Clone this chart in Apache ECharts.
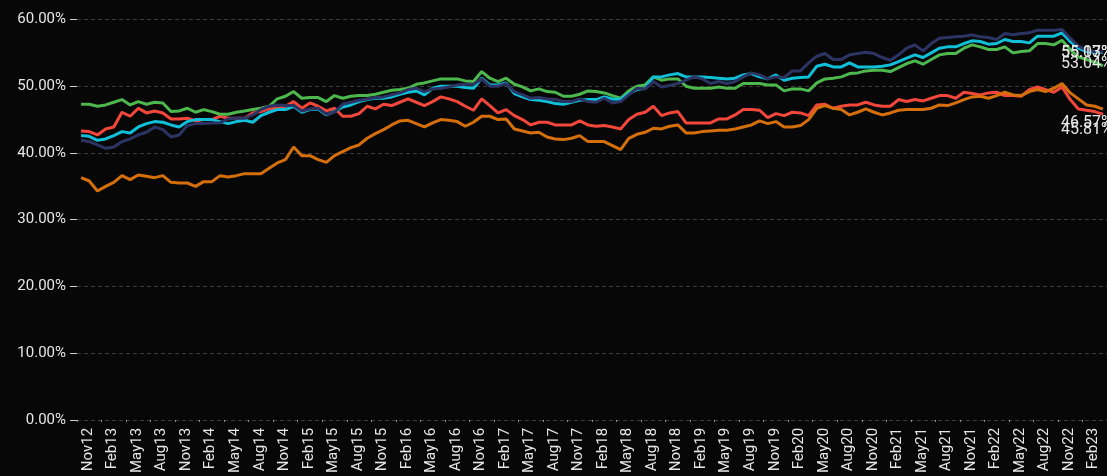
<!DOCTYPE html>
<html>
<head>
<meta charset="utf-8">
<script src="https://cdn.jsdelivr.net/npm/echarts@6/dist/echarts.min.js"></script>
<style>
  html, body { margin: 0; padding: 0; background: #070707; }
  #chart { width: 1107px; height: 476px; }
</style>
</head>
<body>
<div id="chart"></div>
<script>
// Monthly categories, Nov 2012 through Apr 2023
const monthNames = ['Jan','Feb','Mar','Apr','May','Jun','Jul','Aug','Sep','Oct','Nov','Dec'];
const categories = [];
for (let k = 0; k < 126; k++) {
  const m = (10 + k) % 12;
  const y = 12 + Math.floor((10 + k) / 12);
  categories.push(monthNames[m] + y);
}

const yTicks = [0, 10, 20, 30, 40, 50, 60];

const seriesNames = ['Red', 'Orange', 'Green', 'Cyan', 'Navy'];

const redValues = [
  43.3,43.2,42.7,43.6,43.9,46.1,45.5,46.7,46.0,46.3,46.0,45.1,45.1,45.2,44.8,45.0,45.0,45.5,45.2,45.2,
  45.2,46.0,46.2,46.6,46.7,47.0,47.7,46.7,47.5,47.0,46.3,46.7,45.5,45.5,45.9,47.0,46.6,47.3,47.1,47.6,
  48.1,47.6,47.1,47.7,48.4,48.1,47.7,47.0,46.4,48.1,47.1,46.0,46.5,45.6,45.0,44.2,44.6,44.6,44.2,44.2,
  44.2,44.8,44.2,44.0,44.1,43.9,43.6,45.0,45.8,46.1,47.0,45.6,46.0,46.2,44.5,44.5,44.5,44.5,45.1,45.1,
  45.7,46.5,46.5,46.4,45.3,45.9,45.6,46.1,46.0,45.6,47.2,47.3,46.7,47.0,47.2,47.2,47.6,47.2,47.0,47.0,
  48.0,47.7,48.0,47.8,48.2,48.6,48.6,48.2,49.1,48.9,48.7,49.0,49.1,48.6,48.6,48.5,49.5,49.9,49.5,49.1,
  49.9,48.0,46.6,46.4,46.2,45.81
];

const orangeValues = [
  36.3,35.8,34.3,35.0,35.6,36.6,36.0,36.7,36.5,36.3,36.6,35.6,35.5,35.5,35.0,35.7,35.7,36.6,36.4,36.6,
  36.9,36.9,36.9,37.7,38.5,39.0,40.9,39.6,39.6,39.0,38.6,39.6,40.2,40.8,41.2,42.2,42.9,43.5,44.2,44.8,
  44.9,44.4,43.9,44.5,45.0,44.9,44.7,44.0,44.6,45.5,45.5,45.0,45.1,43.6,43.3,43.0,43.1,42.4,42.1,42.0,
  42.2,42.6,41.7,41.7,41.7,41.1,40.5,42.2,42.8,43.1,43.7,43.6,44.0,44.2,43.0,43.0,43.2,43.3,43.4,43.4,
  43.6,43.9,44.2,44.8,44.4,44.7,43.9,43.9,44.1,45.0,46.7,47.1,46.7,46.5,45.7,46.1,46.6,46.1,45.7,46.0,
  46.4,46.5,46.5,46.5,46.7,47.2,47.1,47.5,48.0,48.4,48.5,48.2,48.6,49.1,48.7,48.6,49.2,49.5,49.2,49.7,
  50.4,49.0,48.1,47.2,47.0,46.57
];

const greenValues = [
  47.3,47.3,47.0,47.2,47.6,48.0,47.2,47.7,47.3,47.6,47.5,46.2,46.3,46.7,46.1,46.5,46.2,45.8,45.8,46.1,
  46.3,46.5,46.7,47.0,48.1,48.5,49.2,48.2,48.3,48.3,47.7,48.6,48.2,48.5,48.6,48.6,48.8,49.1,49.4,49.5,
  49.7,50.3,50.5,50.8,51.1,51.1,51.1,50.8,50.7,52.2,51.2,50.7,51.2,50.3,49.9,49.3,49.6,49.2,49.1,48.5,
  48.5,48.8,49.3,49.2,49.0,48.6,48.2,49.3,50.0,50.2,51.4,50.9,51.1,51.1,50.0,49.7,49.7,49.7,49.9,49.7,
  49.7,50.4,50.4,50.4,50.2,50.2,49.3,49.6,49.6,49.3,50.5,51.1,51.2,51.4,51.9,52.0,52.3,52.4,52.4,52.2,
  52.8,53.4,53.8,53.3,54.0,54.7,54.9,54.9,55.7,56.2,55.9,55.5,55.5,55.9,55.0,55.2,55.3,56.4,56.4,56.2,
  56.9,55.5,54.4,54.0,53.6,53.04
];

const cyanValues = [
  42.6,42.5,41.9,42.1,42.6,43.2,43.0,43.9,44.4,44.7,44.6,44.2,43.9,44.7,45.0,45.0,45.0,44.7,44.4,44.7,
  44.9,44.6,45.6,46.1,46.5,46.5,47.0,46.1,46.5,46.6,45.7,46.2,46.9,47.2,47.7,48.0,48.2,48.2,48.4,48.8,
  49.1,49.3,48.7,49.7,50.0,50.0,50.0,49.8,49.7,51.2,50.2,50.2,50.5,48.9,48.4,48.0,47.9,47.7,47.4,47.3,
  47.6,47.9,48.0,48.0,48.4,48.1,48.0,48.9,49.5,49.7,51.4,51.4,51.7,51.9,51.4,51.4,51.4,51.3,51.2,51.1,
  51.2,51.7,51.9,51.4,51.1,51.7,50.9,51.2,51.3,51.4,53.0,53.3,52.9,52.9,53.5,52.9,52.9,52.9,53.0,53.2,
  53.7,54.2,54.7,54.3,55.0,55.7,55.9,55.9,56.4,56.8,56.7,56.3,56.4,57.0,56.7,56.7,56.5,57.5,57.5,57.5,
  58.0,56.7,55.7,55.2,55.1,55.07
];

const navyValues = [
  41.9,41.7,41.2,40.7,40.9,41.7,42.1,42.7,43.1,43.9,43.5,42.4,42.7,44.1,44.4,44.4,44.5,44.5,45.1,45.2,
  45.2,45.7,46.5,47.0,47.2,47.1,47.1,46.3,46.6,46.7,45.8,46.1,47.3,47.6,47.9,48.1,48.3,48.4,48.7,49.0,
  49.5,49.7,49.2,49.6,49.7,49.9,50.2,50.3,50.3,51.1,50.0,50.0,50.4,49.2,48.7,48.2,48.3,48.1,48.0,47.7,
  47.7,48.1,47.7,47.6,48.2,47.5,47.7,48.7,49.7,49.6,50.7,49.9,50.1,50.4,50.9,51.4,51.1,50.4,50.7,50.4,
  50.7,51.4,52.0,51.7,51.1,51.4,51.3,52.3,52.3,53.5,54.5,54.9,54.0,54.0,54.7,54.9,55.1,54.9,54.3,53.9,
  54.7,55.7,56.2,55.3,56.4,57.2,57.3,57.4,57.5,57.7,57.4,57.3,57.0,57.9,57.7,57.9,58.0,58.4,58.4,58.4,
  58.5,57.2,56.0,55.4,55.2,55.13
];

const seriesValues = [redValues, orangeValues, greenValues, cyanValues, navyValues];
const seriesColors = ['#f4473c', '#d56f0c', '#4db84d', '#0fc0d8', '#2c3463'];
const endLabelShift = [[-47, 16], [-47, 14], [-47, -2], [-47, 1], [-47, 1]];

const FONT = 'Roboto';
const TEXT = '#e6e6e6';

const chart = echarts.init(document.getElementById('chart'), null, { renderer: 'canvas' });

chart.setOption({
  backgroundColor: '#070707',
  animation: false,
  grid: { left: 77, right: -7, top: 19.5, bottom: 55.5, containLabel: false },
  xAxis: {
    type: 'category',
    data: categories,
    boundaryGap: true,
    axisLine: { show: false },
    axisTick: { show: true, length: 2, lineStyle: { color: '#9a9a9a', width: 1 } },
    axisLabel: {
      interval: 2,
      rotate: 90,
      margin: 8,
      color: TEXT,
      fontFamily: FONT,
      fontSize: 15,
      lineHeight: 14,
      verticalAlign: 'top'
    },
    splitLine: { show: false }
  },
  yAxis: {
    type: 'value',
    min: yTicks[0],
    max: yTicks[yTicks.length - 1],
    interval: 10,
    axisLine: { show: false },
    axisTick: { show: true, length: 7, lineStyle: { color: '#d0d0d0', width: 1 } },
    axisLabel: {
      margin: 11,
      color: TEXT,
      fontFamily: FONT,
      fontSize: 15,
      formatter: v => v.toFixed(2) + '%'
    },
    splitLine: { show: true, lineStyle: { color: '#3c3c3c', type: [4, 3], width: 1 } }
  },
  series: seriesNames.map((name, i) => ({
    name: name,
    type: 'line',
    data: seriesValues[i],
    showSymbol: false,
    symbol: 'none',
    lineStyle: { width: 3, color: seriesColors[i] },
    itemStyle: { color: seriesColors[i] },
    endLabel: {
      show: true,
      distance: 5,
      offset: endLabelShift[i],
      color: TEXT,
      fontFamily: FONT,
      fontSize: 16,
      formatter: p => Number(p.value).toFixed(2) + '%'
    },
    emphasis: { disabled: true }
  }))
});
</script>
</body>
</html>
